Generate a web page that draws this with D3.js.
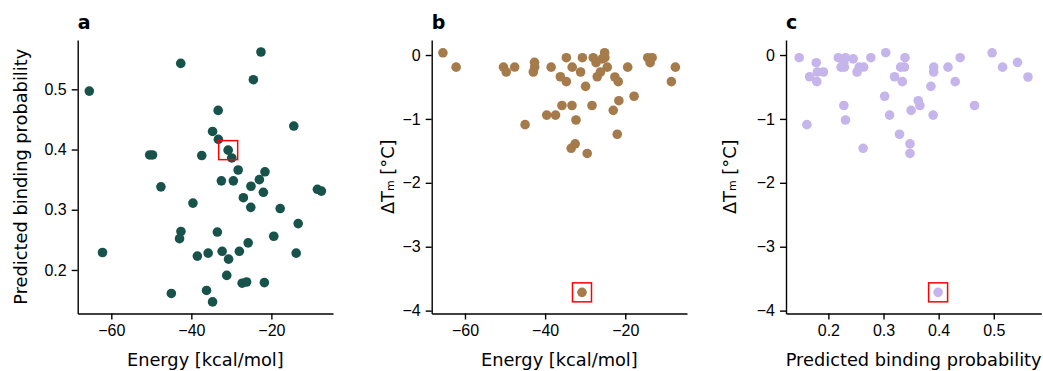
<!DOCTYPE html>
<html>
<head>
<meta charset="utf-8">
<script src="https://cdn.jsdelivr.net/npm/d3@7"></script>
<style>
  html, body { margin: 0; padding: 0; background: #fff; }
  svg { display: block; font-family: "DejaVu Sans", sans-serif; }
  .axis text { font-size: 16px; fill: #000; }
  .axis path, .axis line { stroke: #000; stroke-width: 1.4px; }
</style>
</head>
<body>
<svg id="fig" width="1043" height="371"></svg>
<script>
// Docking energy, predicted binding probability and measured melting-temperature shift per compound
const energy = [-65.5, -62.2, -42.65, -22.6, -24.5, -33.3, -14.4, -34.7, -33.25, -30.8,
  -29.9, -50.4, -49.7, -37.4, -28.3, -21.6, -23.0, -32.5, -29.5, -25.1,
  -47.6, -22.0, -27.0, -8.5, -7.5, -39.6, -25.15, -17.8, -13.3, -42.6,
  -42.95, -33.5, -19.4, -25.8, -38.5, -35.8, -32.3, -28.0, -30.7, -13.8,
  -31.15, -27.3, -26.2, -21.75, -45.0, -36.2, -34.7];
const probability = [0.497, 0.229, 0.543, 0.562, 0.516, 0.465, 0.439, 0.430, 0.417, 0.399,
  0.386, 0.391, 0.391, 0.390, 0.366, 0.363, 0.350, 0.348, 0.348, 0.339,
  0.338, 0.329, 0.320, 0.334, 0.331, 0.311, 0.304, 0.302, 0.277, 0.264,
  0.252, 0.263, 0.256, 0.245, 0.223, 0.228, 0.231, 0.231, 0.218, 0.228,
  0.191, 0.178, 0.180, 0.179, 0.161, 0.166, 0.147];
const deltaTm = [0.035, -0.19, -0.115, -0.344, -0.19, -0.79, -0.042, -0.417, -0.19, -3.714,
  -0.49, -0.188, -0.266, -0.94, -0.79, -0.715, -0.866, -1.39, -1.54, -0.042,
  -0.188, -1.24, -0.34, -0.417, -0.19, -0.94, 0.036, -0.645, -0.042, -0.188,
  -0.266, -1.46, -0.19, -0.06, -0.19, -0.79, -1.017, -0.042, -0.042, -0.12,
  -0.266, -0.12, -0.266, -0.417, -1.09, -0.34, -0.042];
// compound singled out with a box in every panel
const highlighted = 9;

const energyTicks = [-60, -40, -20];
const probTicks = [0.2, 0.3, 0.4, 0.5];
const tmTicks = [0, -1, -2, -3, -4];

const rows = energy.map((e, i) => ({ energy: e, probability: probability[i], deltaTm: deltaTm[i], idx: i }));

const svg = d3.select("#fig");
const plotTop = 40, plotBottom = 313.5, plotW = 255.3;
const labelSize = 17.8;

const panels = [
  { label: "a", left: 77.7, color: "#17534b",
    x: "energy", xDomain: [-68.4, -4.6], xTicks: energyTicks, xFmt: d3.format("d"), xLabel: "Energy [kcal/mol]",
    y: "probability", yDomain: [0.1277, 0.5819], yTicks: probTicks, yFmt: d3.format(".1f"), yLabel: "prob", yLabelX: 20 },
  { label: "b", left: 431.7, color: "#a67b4b",
    x: "energy", xDomain: [-68.3, -4.6], xTicks: energyTicks, xFmt: d3.format("d"), xLabel: "Energy [kcal/mol]",
    y: "deltaTm", yDomain: [-4.045, 0.235], yTicks: tmTicks, yFmt: d3.format("d"), yLabel: "tm", yLabelX: 387 },
  { label: "c", left: 786, color: "#c5b5eb",
    x: "probability", xDomain: [0.1231, 0.5862], xTicks: probTicks, xFmt: d3.format(".1f"), xLabel: "Predicted binding probability",
    y: "deltaTm", yDomain: [-4.045, 0.235], yTicks: tmTicks, yFmt: d3.format("d"), yLabel: "tm", yLabelX: 729 }
];

panels.forEach(p => {
  const x = d3.scaleLinear().domain(p.xDomain).range([p.left, p.left + plotW]);
  const y = d3.scaleLinear().domain(p.yDomain).range([plotBottom, plotTop]);
  const g = svg.append("g");

  g.append("g").attr("class", "axis")
    .attr("transform", `translate(0,${plotBottom})`)
    .call(d3.axisBottom(x).tickValues(p.xTicks).tickFormat(p.xFmt).tickSize(6).tickSizeOuter(0).tickPadding(5));
  g.append("g").attr("class", "axis")
    .attr("transform", `translate(${p.left},0)`)
    .call(d3.axisLeft(y).tickValues(p.yTicks).tickFormat(p.yFmt).tickSize(6).tickSizeOuter(0).tickPadding(5));

  g.selectAll("circle").data(rows).join("circle")
    .attr("cx", d => x(d[p.x]))
    .attr("cy", d => y(d[p.y]))
    .attr("r", 4.8)
    .attr("fill", p.color);

  const h = rows[highlighted];
  g.append("rect")
    .attr("x", x(h[p.x]) - 9.5).attr("y", y(h[p.y]) - 9.5)
    .attr("width", 19).attr("height", 19)
    .attr("fill", "none").attr("stroke", "#ff0000").attr("stroke-width", 1.5);

  g.append("text")
    .attr("x", p.left + plotW / 2).attr("y", 366)
    .attr("text-anchor", "middle").attr("font-size", labelSize)
    .text(p.xLabel);

  const yl = g.append("text")
    .attr("transform", `translate(${p.yLabelX},${(plotTop + plotBottom) / 2}) rotate(-90)`)
    .attr("text-anchor", "middle").attr("dominant-baseline", "central").attr("font-size", labelSize);
  if (p.yLabel === "prob") {
    yl.text("Predicted binding probability");
  } else {
    yl.append("tspan").text("ΔT");
    yl.append("tspan").attr("font-size", 11).attr("dy", 3).text("m");
    yl.append("tspan").attr("dy", -3).text(" [°C]");
  }

  g.append("text")
    .attr("x", p.left).attr("y", 29)
    .attr("font-size", 19).attr("font-weight", "bold")
    .text(p.label);
});
</script>
</body>
</html>
